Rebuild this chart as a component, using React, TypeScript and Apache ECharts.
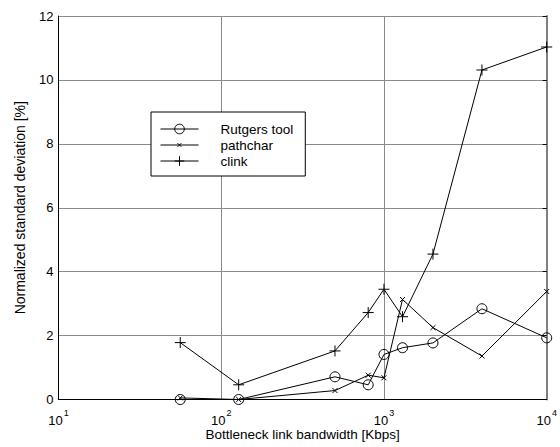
import React, { useEffect, useRef } from "react";
import * as echarts from "echarts";

const bandwidths = [56, 128, 500, 800, 1000, 1300, 2000, 4000, 10000];
const rutgers = [0, 0, 0.71, 0.46, 1.41, 1.62, 1.77, 2.84, 1.93];
const pathchar = [0.05, 0, 0.28, 0.76, 0.68, 3.13, 2.25, 1.36, 3.38];
const clink = [1.78, 0.46, 1.52, 2.72, 3.45, 2.59, 4.55, 10.31, 11.03];
const yTicks = [0, 2, 4, 6, 8, 10, 12];

const FONT = "'Liberation Sans', Arial, Helvetica, sans-serif";

function pairs(ys: number[]) {
  return bandwidths.map((x, i) => [x, ys[i]]);
}

export default function App() {
  const ref = useRef<HTMLDivElement>(null);
  useEffect(() => {
    if (!ref.current) return;
    const chart = echarts.init(ref.current, undefined, { renderer: "svg" });
    const lineStyle = { color: "#000", width: 1 };
    const itemStyle = { color: "rgba(0,0,0,0)", borderColor: "#000", borderWidth: 1 };
    chart.setOption({
      animation: false,
      backgroundColor: "#fff",
      textStyle: { fontFamily: FONT },
      grid: { left: 58.5, right: 13.3, top: 16, bottom: 47.5, outerBoundsMode: "none", containLabel: false },
      legend: {
        orient: "vertical",
        left: 151,
        top: 112,
        padding: [10, 12, 8, 9],
        itemGap: 2,
        itemWidth: 38,
        itemHeight: 12,
        borderColor: "#000",
        borderWidth: 1,
        backgroundColor: "#fff",
        lineStyle: { width: 1 },
        itemStyle: { borderWidth: 1 },
        textStyle: { fontSize: 13.5, color: "#000", fontFamily: FONT, padding: [0, 0, 0, 17] },
        data: ["Rutgers tool", "pathchar", "clink"],
      },
      xAxis: [
        {
          type: "log",
          logBase: 10,
          min: 10,
          max: 10000,
          position: "bottom",
          name: "Bottleneck link bandwidth [Kbps]",
          nameLocation: "middle",
          nameGap: 28,
          nameMoveOverlap: false,
          nameTextStyle: { fontSize: 13.5, color: "#000", fontFamily: FONT },
          axisLine: { show: true, lineStyle: { color: "#000", width: 1 } },
          axisTick: { show: false },
          minorTick: { show: false },
          splitLine: { show: true, lineStyle: { color: "#8a8a8a", width: 1 } },
          axisLabel: {
            margin: 9,
            color: "#000",
            formatter: (v: number) => `{b|10}{s|${Math.round(Math.log10(v))}}`,
            rich: {
              b: { fontSize: 13, color: "#000", fontFamily: FONT, verticalAlign: "bottom" },
              s: { fontSize: 9, color: "#000", fontFamily: FONT, verticalAlign: "top", padding: [0, 0, 9, 1] },
            },
          },
        },
        {
          type: "log",
          logBase: 10,
          min: 10,
          max: 10000,
          position: "top",
          axisLine: { show: true, lineStyle: { color: "#000", width: 1 } },
          axisTick: { show: false },
          axisLabel: { show: false },
          splitLine: { show: false },
        },
      ],
      yAxis: [
        {
          type: "value",
          min: 0,
          max: 12,
          interval: 2,
          position: "left",
          name: "Normalized standard deviation [%]",
          nameLocation: "middle",
          nameGap: 32,
          nameMoveOverlap: false,
          nameTextStyle: { fontSize: 14, color: "#000", fontFamily: FONT },
          axisLine: { show: true, lineStyle: { color: "#000", width: 1 } },
          axisTick: { show: false },
          splitLine: { show: true, lineStyle: { color: "#8a8a8a", width: 1 } },
          axisLabel: {
            margin: 5,
            fontSize: 13,
            color: "#000",
            fontFamily: FONT,
            formatter: (v: number) => (yTicks.includes(v) ? String(v) : ""),
          },
        },
        {
          type: "value",
          min: 0,
          max: 12,
          interval: 2,
          position: "right",
          axisLine: { show: true, lineStyle: { color: "#808080", width: 2 } },
          axisTick: { show: true, inside: true, length: 4, lineStyle: { color: "#000" } },
          axisLabel: { show: false },
          splitLine: { show: false },
        },
      ],
      series: [
        {
          name: "Rutgers tool",
          type: "line",
          data: pairs(rutgers),
          symbol: "circle",
          symbolSize: 10,
          showAllSymbol: true,
          clip: false,
          lineStyle,
          itemStyle,
          z: 3,
        },
        {
          name: "pathchar",
          type: "line",
          data: pairs(pathchar),
          symbol: "path://M-8 -8M0 0L10 10M10 0L0 10M18 18",
          symbolSize: 13,
          showAllSymbol: true,
          clip: false,
          lineStyle,
          itemStyle,
          z: 3,
        },
        {
          name: "clink",
          type: "line",
          data: pairs(clink),
          symbol: "path://M5 0L5 10M0 5L10 5",
          symbolSize: 11,
          showAllSymbol: true,
          clip: false,
          lineStyle,
          itemStyle,
          z: 3,
        },
      ],
    });
    return () => chart.dispose();
  }, []);
  return <div ref={ref} style={{ width: 560, height: 447, position: "absolute", left: 0, top: 0 }} />;
}
